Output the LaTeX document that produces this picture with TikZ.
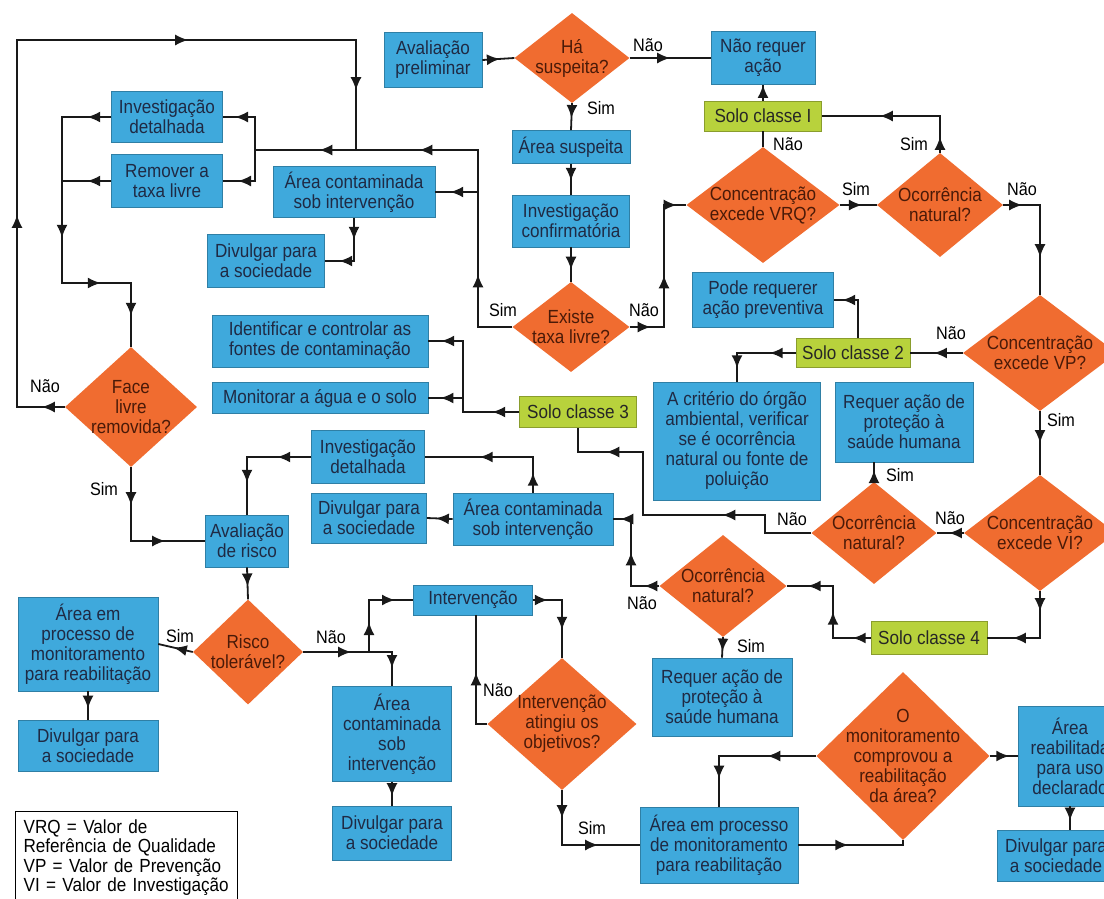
\documentclass[tikz,border=0pt]{standalone}
\usepackage{fontspec}
\setmainfont{Liberation Sans}[FakeStretch=0.9]
\usetikzlibrary{arrows.meta,decorations.markings,shapes.geometric}
\definecolor{boxblue}{HTML}{3FA9DC}
\definecolor{diaorange}{HTML}{F06C30}
\definecolor{sologreen}{HTML}{B8D23C}
\definecolor{boxtext}{HTML}{1F2A44}
\definecolor{diatext}{HTML}{4A1A08}
\newcommand{\flowfont}{\fontsize{19}{20}\selectfont}
\newcommand{\ynfont}{\fontsize{18}{20}\selectfont}
\tikzset{
	box/.style 2 args={draw=boxblue!75!black, line width=0.6pt, fill=boxblue, text=boxtext, font=\flowfont, align=center, inner sep=0pt, minimum width=#1, minimum height=#2},
	solo/.style 2 args={box={#1}{#2}, fill=sologreen, draw=sologreen!75!black, text=black!85},
	dia/.style n args={3}{diamond, fill=diaorange, inner sep=0pt, minimum width=#1, minimum height=#2, label={[dtext]center:{#3}}},
	dtext/.style={font=\flowfont, text=diatext, align=center},
	yn/.style={font=\ynfont, text=black, inner sep=0pt},
	flow/.style={line width=1.8pt, draw=black!90},
	ar/.style={postaction={decorate, decoration={markings, mark=at position #1 with {\arrow{Latex[length=13pt,width=11pt]}}}}}
}

\begin{document}
\begin{tikzpicture}[x=1pt,y=-1pt]
				\useasboundingbox (0,0) rectangle (1104,898);
				\fill[white] (0,0) rectangle (1104,898);
				\clip (0,0) rectangle (1104,898);
				
				% top: preliminary steps
				\node[box={98}{55}] (avp) at (433,60) {Avaliação\\preliminar};
				\node[dia={115}{90}{Há\\suspeita?}] (has) at (572,58) {};
				\node[box={104}{53}] (nra) at (763,58) {Não requer\\ação};
				\node[solo={117}{30}] (sc1) at (763,116) {Solo classe I};
				\node[box={118}{33}] (asus) at (571,147) {Área suspeita};
				\node[box={117}{52}] (icf) at (571,221) {Investigação\\confirmatória};
				\node[dia={117}{90}{Existe\\taxa livre?}] (etl) at (571,327) {};
				
				% right column
				\node[dia={153}{116}{Concentração\\excede VRQ?}] (vrq) at (763,205) {};
				\node[dia={126}{104}{Ocorrência\\natural?}] (on1) at (940,205) {};
				\node[box={141}{55}] (ppv) at (763,300) {Pode requerer\\ação preventiva};
				\node[dia={154}{116}{Concentração\\excede VP?}] (vp) at (1040,353) {};
				\node[solo={114}{29}] (sc2) at (853,353) {Solo classe 2};
				\node[box={167}{118}] (acr) at (737,441) {A critério do órgão\\ambiental, verificar\\se é ocorrência\\natural ou fonte de\\poluição};
				\node[box={138}{80}] (rsh1) at (904,422) {Requer ação de\\proteção à\\saúde humana};
				\node[dia={152}{116}{Concentração\\excede VI?}] (vi) at (1040,533) {};
				\node[dia={125}{102}{Ocorrência\\natural?}] (on2) at (874,533) {};
				\node[dia={127}{102}{Ocorrência\\natural?}] (on3) at (723,586) {};
				\node[box={140}{78}] (rsh2) at (722,697) {Requer ação de\\proteção à\\saúde humana};
				\node[solo={116}{33}] (sc4) at (929,638) {Solo classe 4};
				
				% bottom: monitoring
				\node[dia={173}{168}{O\\monitoramento\\comprovou a\\reabilitação\\da área?}] (mona) at (903,756) {};
				\node[box={104}{100}] (arb) at (1070,756) {Área\\reabilitada\\para uso\\declarado};
				\node[box={118}{51}] (div5) at (1056,856) {Divulgar para\\a sociedade};
				\node[box={158}{76}] (apm2) at (719,845) {Área em processo\\de monitoramento\\para reabilitação};
				\node[dia={149}{132}{Intervenção\\atingiu os\\objetivos?}] (iao) at (562,724) {};
				\node[box={119}{30}] (intv) at (473,600) {Intervenção};
				\node[box={119}{95}] (acl) at (392,734) {Área\\contaminada\\sob\\intervenção};
				\node[box={119}{54}] (div4) at (392,833) {Divulgar para\\a sociedade};
				\node[dia={110}{105}{Risco\\tolerável?}] (rto) at (248,652) {};
				\node[box={140}{94}] (apm1) at (88,644) {Área em\\processo de\\monitoramento\\para reabilitação};
				\node[box={140}{51}] (div3) at (88,746) {Divulgar para\\a sociedade};
				
				% left and middle
				\node[box={83}{52}] (avr) at (247,541) {Avaliação\\de risco};
				\node[dia={132}{120}{Face\\livre\\removida?}] (flr) at (131,407) {};
				\node[box={115}{50}] (div2) at (369,518) {Divulgar para\\a sociedade};
				\node[box={113}{53}] (idt2) at (368,457) {Investigação\\detalhada};
				\node[box={160}{52}] (acm) at (533,519) {Área contaminada\\sob intervenção};
				\node[solo={117}{31}] (sc3) at (578,412) {Solo classe 3};
				\node[box={216}{52}] (idc) at (320,341) {Identificar e controlar as\\fontes de contaminação};
				\node[box={216}{31}] (mon) at (320,398) {Monitorar a água e o solo};
				\node[box={111}{51}] (idt1) at (167,117) {Investigação\\detalhada};
				\node[box={111}{53}] (rtl) at (167,181) {Remover a\\taxa livre};
				\node[box={162}{51}] (act) at (354,192) {Área contaminada\\sob intervenção};
				\node[box={117}{53}] (div1) at (266,261) {Divulgar para\\a sociedade};
				
				\node[draw=black, line width=1.2pt, align=left, anchor=north west, font=\fontsize{19}{19.5}\selectfont, text width=206, inner xsep=8, inner ysep=8] (leg) at (15,811) {VRQ = Valor de\\Referência de Qualidade\\VP = Valor de Prevenção\\VI = Valor de Investigação};
				
				% corners of the connectors
				\coordinate (jA) at (478,150);
				\coordinate (jB) at (255,150);
				\coordinate (jC) at (478,192);
				\coordinate (lpL) at (17,40);
				\coordinate (lpR) at (356,40);
				\coordinate (lq1) at (62,117);
				\coordinate (lq2) at (62,283);
				\coordinate (kA) at (463,412);
				\coordinate (m1) at (765,515);
				\coordinate (m2) at (643,452);
				\coordinate (n1) at (664,327);
				\coordinate (p1) at (833,638);
				\coordinate (p2) at (631,586);
				\coordinate (q1) at (369,652);
				
				\draw[flow, ar=0.55] (avp.east) -- (has.west);
				\draw[flow, ar=0.5] (has.east) -- (nra.west);
				\draw[flow, ar=0.55] (has.south) -- (asus.north);
				\draw[flow, ar=0.55] (asus.south) -- (icf.north);
				\draw[flow, ar=0.65] (icf.south) -- (etl.north);
				
				\draw[flow, ar=87pt, ar=270pt, ar=370pt] (etl.west) -| (jA) -- (jB);
				\draw[flow, ar=0.65] (jC) -- (act.east);
				\draw[flow, ar=53pt] (jB) |- (idt1.east);
				\draw[flow, ar=48pt] (jB) |- (rtl.east);
				\draw[flow, ar=22pt, ar=58pt] (act.south) |- (div1.east);
				\draw[flow, ar=23pt, ar=240pt, ar=586pt, ar=804pt] (flr.west) -| (lpL) -- (lpR) -- (lpR |- jB);
				\draw[flow, ar=24pt, ar=170pt, ar=254pt, ar=317pt] (idt1.west) -- (lq1) -- (lq2) -| (flr.north);
				\draw[flow, ar=24pt] (rtl.west) -- (rtl.west -| lq1);
				\draw[flow, ar=38pt, ar=108pt] (flr.south) |- (avr.west);
				\draw[flow, ar=0.6] (avr.south) -- (rto.north);
				\draw[flow, ar=34pt, ar=90pt] (idt2.west) -| (avr.north);
				\draw[flow, ar=20pt, ar=89pt] (acm.north) |- (idt2.east);
				\draw[flow, ar=0.65] (acm.west) -- (div2.east);
				\draw[flow, ar=27pt, ar=149pt] (sc3.west) -- (kA) |- (idc.east);
				\draw[flow, ar=0.65] (kA |- mon.east) -- (mon.east);
				
				\draw[flow, ar=107pt, ar=286pt] (on2.west) -| (m1) -| (m2) -| (sc3.south);
				\draw[flow, ar=0.6] (on2.north) -- (on2.north |- rsh1.south);
				\draw[flow, ar=0.55] (vi.west) -- (on2.east);
				\draw[flow, ar=0.5] (vp.south) -- (vi.north);
				\draw[flow, ar=0.55] (vp.west) -- (sc2.east);
				\draw[flow, ar=26pt, ar=74pt] (sc2.west) -| (acr.north);
				\draw[flow, ar=54pt] ([xshift=5]sc2.north) |- (ppv.east);
				\draw[flow, ar=21pt, ar=86pt, ar=169pt] (etl.east) -- (n1) |- (vrq.west);
				\draw[flow] (vrq.north) -- (sc1.south);
				\draw[flow, ar=0.99] (sc1.north) -- (nra.south);
				\draw[flow, ar=0.6] (vrq.east) -- (on1.west);
				\draw[flow, ar=16pt, ar=97pt] (on1.north) |- (sc1.east);
				\draw[flow, ar=19pt, ar=89pt] (on1.east) -| (vp.north);
				\draw[flow, ar=20pt, ar=74pt] (vi.south) |- (sc4.east);
				\draw[flow, ar=18pt, ar=64pt, ar=115pt] (sc4.west) -- (p1) |- (on3.east);
				\draw[flow, ar=15pt, ar=62pt, ar=106pt] (on3.west) -- (p2) |- (acm.east);
				\draw[flow, ar=0.7] (on3.south) -- (rsh2.north);
				
				\draw[flow, ar=0.55] (rto.west) -- (apm1.east);
				\draw[flow, ar=0.6] (apm1.south) -- (div3.north);
				\draw[flow, ar=48pt] (rto.east) -- (q1);
				\draw[flow, ar=30pt, ar=78pt] (q1) |- (intv.west);
				\draw[flow, ar=39pt] (q1) -| (acl.north);
				\draw[flow, ar=0.6] (acl.south) -- (div4.north);
				\draw[flow, ar=15pt, ar=59pt] (intv.east) -| (iao.north);
				\draw[flow, ar=63pt] (iao.west) -| ([xshift=3]intv.south);
				\draw[flow, ar=28pt, ar=91pt] (iao.south) |- (apm2.west);
				\draw[flow, ar=50pt] (apm2.east) -| (mona.south);
				\draw[flow, ar=49pt, ar=120pt] (mona.west) -| (apm2.north);
				\draw[flow, ar=0.7] (mona.east) -- (arb.west);
				\draw[flow, ar=0.6] (arb.south) -- (arb.south |- div5.north);
				
				% Sim / Nao
				\node[yn] (t1) at (648,45) {Não};
				\node[yn] (t2) at (601,108) {Sim};
				\node[yn] (t3) at (503,310) {Sim};
				\node[yn] (t4) at (644,310) {Não};
				\node[yn] (t5) at (788,144) {Não};
				\node[yn] (t6) at (856,189) {Sim};
				\node[yn] (t7) at (914,144) {Sim};
				\node[yn] (t8) at (1022,189) {Não};
				\node[yn] (t9) at (951,333) {Não};
				\node[yn] (t10) at (1061,420) {Sim};
				\node[yn] (t11) at (950,518) {Não};
				\node[yn] (t12) at (900,475) {Sim};
				\node[yn] (t13) at (792,519) {Não};
				\node[yn] (t14) at (642,603) {Não};
				\node[yn] (t15) at (751,646) {Sim};
				\node[yn] (t16) at (180,636) {Sim};
				\node[yn] (t17) at (331,637) {Não};
				\node[yn] (t18) at (498,690) {Não};
				\node[yn] (t19) at (592,828) {Sim};
				\node[yn] (t20) at (45,386) {Não};
				\node[yn] (t21) at (104,489) {Sim};
			\end{tikzpicture}
\end{document}
